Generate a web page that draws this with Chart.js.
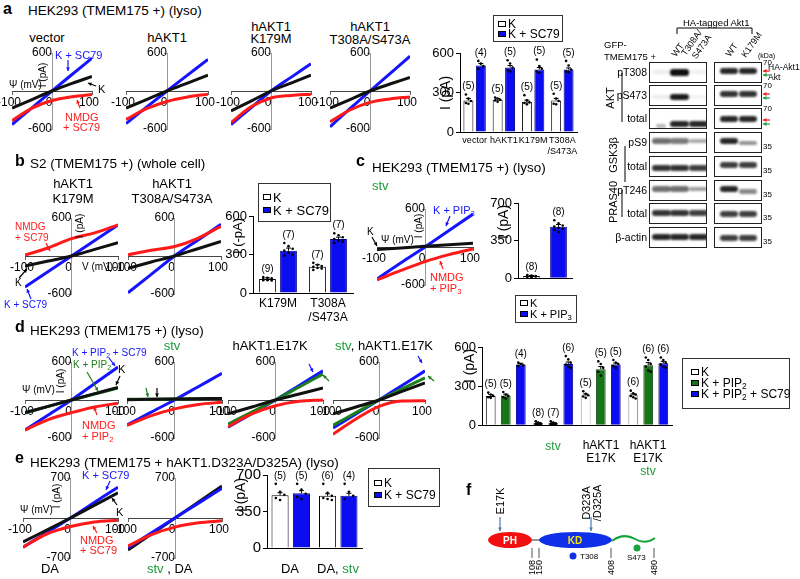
<!DOCTYPE html>
<html>
<head>
<meta charset="utf-8">
<script src="https://cdn.jsdelivr.net/npm/chart.js@4.4.1/dist/chart.umd.min.js"></script>
<style>
body { margin: 0; width: 800px; height: 579px; position: relative; background: #fff; overflow: hidden; font-family: "Liberation Sans", Arial, sans-serif; }
.t { position: absolute; white-space: nowrap; line-height: 1; color: #000; }
.lg { position: absolute; border: 1px solid #333; box-sizing: border-box; }
.sw { position: absolute; width: 8px; height: 6px; box-sizing: border-box; border: 1px solid #000; }
.blot { position: absolute; border: 1.5px solid #222; box-sizing: border-box; background: #fff; overflow: hidden; }
.band { position: absolute; border-radius: 3px; filter: blur(0.8px); }
sub { font-size: 70%; vertical-align: -2px; line-height: 0; }
.g { color: #1d9a3a; }
</style>
</head>
<body>
<script>
const blue = '#1414ff', red = '#ff1a1a', black = '#111', green = '#1d7f1d';
const barBlue = '#0c0cf0', barGreen = '#177517', stvGreen = '#1d9a3a';

// membrane voltage (mV) for every I-V trace
const V = [-100, -50, 0, 50, 100];

// a: HEK293 lyso, current (pA)
const aVecK = [-270, -135, 0, 120, 230], aVecSC = [-530, -265, 0, 260, 520], aVecNM = [-470, -270, -150, -90, -55];
const aAktK = [-270, -135, 0, 125, 250], aAktSC = [-515, -255, 0, 250, 500], aAktNM = [-450, -280, -165, -95, -50];
const aKmK = [-315, -160, 0, 125, 250], aKmSC = [-530, -265, 0, 215, 430], aKmNM = [-500, -250, -110, -70, -50];
const aTsK = [-270, -135, 0, 110, 215], aTsSC = [-565, -280, 0, 275, 550], aTsNM = [-485, -300, -180, -125, -95];
const aCats = ['vector', 'hAKT1', 'K179M', ['T308A', '/S473A']];
const aK = [240, 245, 230, 240], aSC = [505, 490, 475, 475];
const aKn = [5, 5, 5, 5], aSCn = [4, 5, 5, 5];
const aKsem = [15, 8, 12, 15], aSCsem = [15, 15, 15, 12];
const aKpts = [[285, 255, 235, 220, 215], [262, 255, 245, 240, 230], [280, 240, 225, 220, 210], [290, 255, 235, 215, 210]];
const aSCpts = [[540, 520, 500, 480], [545, 520, 490, 470, 460], [550, 500, 480, 460, 450], [540, 505, 475, 460, 455]];

// b: S2 whole cell
const bKmK = [-160, -80, 0, 105, 210], bKmSC = [-490, -245, 0, 245, 490], bKmNM = [15, 130, 275, 365, 490];
const bTsK = [-195, -95, 0, 115, 230], bTsSC = [-580, -290, 0, 250, 500], bTsNM = [20, 90, 150, 280, 470];
const bCats = ['K179M', ['T308A', '/S473A']];
const bK = [110, 205], bSC = [330, 420];
const bKn = [9, 7], bSCn = [7, 7];
const bKsem = [8, 15], bSCsem = [20, 15];
const bKpts = [[125, 118, 115, 110, 105, 105, 100, 100, 98], [235, 220, 210, 205, 195, 190, 180]];
const bSCpts = [[390, 365, 345, 330, 315, 300, 290], [465, 450, 435, 420, 410, 400, 390]];

// c: starved, PIP3
const cK = [-40, -15, 10, 35, 60], cPIP = [-505, -250, 0, 260, 520], cNM = [-520, -370, -230, -120, -30];
const cVals = [20, 480], cN = [8, 8], cSem = [5, 20];
const cPts = [[30, 25, 20, 18, 15, 15, 12, 10], [540, 510, 490, 480, 470, 460, 450, 430]];

// d: PIP2 / E17K
const d1K = [-200, -100, 0, 100, 200], d1G = [-205, -100, 0, 95, 190], d1B = [-475, -235, 0, 260, 520], d1R = [-475, -310, -200, -110, -50];
const d2K = [5, 10, 15, 20, 25], d2G = [10, 12, 15, 20, 25], d2B = [-395, -195, 0, 210, 420], d2R = [-400, -250, -140, -70, -35];
const d3K = [-220, -110, 0, 95, 190], d3G = [-380, -190, 0, 205, 410], d3B = [-430, -215, 0, 230, 460], d3R = [-420, -220, -90, -20, 0];
const d4K = [-220, -110, 0, 135, 270], d4G = [-400, -200, 0, 175, 350], d4B = [-440, -220, 0, 230, 460], d4R = [-540, -300, -100, -15, -10];
const dCats = ['', 'stv', 'hAKT1 E17K', 'hAKT1 E17K stv'];
const dK = [225, 15, 230, 230], dG = [228, 15, 430, 460], dB = [465, 470, 465, 475];
const dKn = [5, 8, 5, 6], dGn = [5, 7, 5, 6], dBn = [4, 6, 5, 6];
const dKsem = [10, 4, 10, 10], dGsem = [10, 4, 20, 20], dBsem = [10, 15, 12, 15];
const dKpts = [[250, 235, 225, 215, 210], [30, 20, 15, 10, 8, 5, 5, 3], [260, 240, 230, 220, 210], [265, 245, 235, 225, 215, 205]];
const dGpts = [[255, 235, 225, 215, 205], [30, 20, 15, 10, 8, 5, 3], [490, 470, 440, 410, 380], [520, 500, 470, 450, 420, 410]];
const dBpts = [[480, 470, 460, 455], [530, 505, 480, 465, 450, 440], [500, 480, 470, 455, 440], [520, 500, 480, 465, 450, 440]];

// e: D323A/D325A
const e1K = [-420, -210, 0, 220, 440], e1B = [-510, -255, 0, 270, 540], e1R = [-510, -280, -150, -70, -40];
const e2K = [-560, -280, 0, 280, 560], e2B = [-520, -260, 0, 260, 520], e2R = [-490, -290, -160, -85, -50];
const eCats = ['DA', 'DA, stv'];
const eK = [505, 500], eSC = [525, 500];
const eKn = [5, 6], eSCn = [5, 4];
const eKsem = [25, 20], eSCsem = [25, 25];
const eKpts = [[615, 540, 510, 480, 460], [615, 530, 500, 480, 470, 460]];
const eSCpts = [[615, 560, 520, 490, 470], [615, 540, 500, 470]];

Chart.defaults.font.family = '"Liberation Sans", Arial, sans-serif';
Chart.defaults.color = '#000';

function makeCanvas(x, y, w, h) {
    const c = document.createElement('canvas');
    c.width = w; c.height = h;
    c.style.cssText = 'position:absolute;left:' + x + 'px;top:' + y + 'px;width:' + w + 'px;height:' + h + 'px';
    document.body.appendChild(c);
    return c;
}

function ivChart(L, T, W, H, yMax, series) {
    const pad = 26;
    const cv = makeCanvas(L - pad, T - pad, W + 2 * pad, H + 2 * pad);
    new Chart(cv, {
        type: 'line',
        data: {
            datasets: series.map(s => ({
                data: V.map((v, i) => ({ x: v, y: s[0][i] })),
                borderColor: s[1], borderWidth: 3, pointRadius: 0,
                cubicInterpolationMode: 'monotone', fill: false
            }))
        },
        options: {
            responsive: false, devicePixelRatio: 1, animation: false,
            layout: { padding: pad },
            plugins: { legend: { display: false }, tooltip: { enabled: false } },
            scales: {
                x: {
                    type: 'linear', min: -100, max: 100, position: { y: 0 },
                    afterFit: s => { s.height = 0; },
                    afterBuildTicks: s => { s.ticks = V.filter(v => v % 100 === 0).map(v => ({ value: v })); },
                    border: { color: '#444' },
                    grid: { drawOnChartArea: false, tickLength: 3, color: '#666' },
                    ticks: { font: { size: 12 }, padding: 1, labelOffset: -3, maxRotation: 0, autoSkip: false }
                },
                y: {
                    type: 'linear', min: -yMax, max: yMax, position: { x: 0 },
                    afterFit: s => { s.width = 0; },
                    afterBuildTicks: s => { s.ticks = [-yMax, yMax].map(v => ({ value: v })); },
                    border: { color: '#999' },
                    grid: { drawOnChartArea: false, tickLength: 3, color: '#999' },
                    ticks: { font: { size: 12 }, padding: 1, autoSkip: false }
                }
            }
        }
    });
}

// error bars, single points and n above each bar
const barExtras = {
    id: 'barExtras',
    afterDatasetsDraw(chart) {
        const ctx = chart.ctx, ys = chart.scales.y;
        chart.data.datasets.forEach((ds, di) => {
            chart.getDatasetMeta(di).data.forEach((bar, i) => {
                const v = ds.data[i], w = bar.width;
                let top = v;
                ctx.save();
                ctx.strokeStyle = '#000';
                ctx.fillStyle = '#000';
                ctx.lineWidth = 1;
                if (ds.sem) {
                    const y0 = ys.getPixelForValue(v), y1 = ys.getPixelForValue(v + ds.sem[i]);
                    ctx.beginPath();
                    ctx.moveTo(bar.x, y0); ctx.lineTo(bar.x, y1);
                    ctx.moveTo(bar.x - 2.5, y1); ctx.lineTo(bar.x + 2.5, y1);
                    ctx.stroke();
                    top = Math.max(top, v + ds.sem[i]);
                }
                if (ds.pts) {
                    ds.pts[i].forEach((p, j) => {
                        const dx = ((j % 3) - 1) * w * 0.25;
                        ctx.beginPath();
                        ctx.arc(bar.x + dx, ys.getPixelForValue(p), 1.3, 0, Math.PI * 2);
                        ctx.fill();
                        top = Math.max(top, p);
                    });
                }
                if (ds.n) {
                    ctx.font = '10px "Liberation Sans", Arial, sans-serif';
                    ctx.textAlign = 'center';
                    ctx.textBaseline = 'middle';
                    ctx.fillText('(' + ds.n[i] + ')', bar.x, ys.getPixelForValue(top) - 8);
                }
                ctx.restore();
            });
        });
    }
};

function barChart(L, T, R, B, yMax, yTicks, labels, sets, o) {
    const padL = 32, padT = 12, padR = 6, xh = o.xh;
    const cv = makeCanvas(L - padL, T - padT, R - L + padL + padR, B - T + padT + xh);
    new Chart(cv, {
        type: 'bar',
        data: {
            labels: labels,
            datasets: sets.map(s => ({
                data: s.v, backgroundColor: s.bg, borderColor: s.bd, borderWidth: 1,
                pts: s.pts, sem: s.sem, n: s.n,
                categoryPercentage: o.cp, barPercentage: o.bp
            }))
        },
        options: {
            responsive: false, devicePixelRatio: 1, animation: false,
            layout: { padding: { left: 2, top: padT, right: padR, bottom: 0 } },
            plugins: { legend: { display: false }, tooltip: { enabled: false } },
            scales: {
                x: {
                    afterFit: s => { s.height = xh; },
                    grid: { drawOnChartArea: false, drawTicks: false },
                    border: { color: '#000' },
                    ticks: { display: !!o.showX, font: { size: o.xfs || 11 }, padding: 3, maxRotation: 0, autoSkip: false }
                },
                y: {
                    min: 0, max: yMax,
                    afterFit: s => { s.width = padL - 2; },
                    afterBuildTicks: s => { s.ticks = yTicks.map(v => ({ value: v })); },
                    grid: { drawOnChartArea: false, tickLength: 4, color: '#000' },
                    border: { color: '#000' },
                    ticks: { font: { size: o.yfs || 12 }, padding: 2 }
                }
            }
        },
        plugins: [barExtras]
    });
}

function txt(x, y, s, o) {
    o = o || {};
    const fs = o.fs || 12;
    const d = document.createElement('div');
    d.className = 't';
    d.innerHTML = s;
    d.style.fontSize = fs + 'px';
    d.style.left = x + 'px';
    d.style.top = (y - fs / 2) + 'px';
    if (o.c) d.style.color = o.c;
    if (o.b) d.style.fontWeight = 'bold';
    if (o.center) d.style.transform = 'translateX(-50%)';
    if (o.right) d.style.transform = 'translateX(-100%)';
    document.body.appendChild(d);
    return d;
}

function rot(x, y, s, fs, ang) {
    const d = document.createElement('div');
    d.className = 't';
    d.innerHTML = s;
    d.style.fontSize = fs + 'px';
    d.style.left = x + 'px';
    d.style.top = y + 'px';
    d.style.transform = 'translate(-50%,-50%) rotate(' + (ang || -90) + 'deg)';
    document.body.appendChild(d);
}

function legend(x, y, w, h, items, fs, sx) {
    const b = document.createElement('div');
    b.className = 'lg';
    b.style.cssText = 'left:' + x + 'px;top:' + y + 'px;width:' + w + 'px;height:' + h + 'px';
    document.body.appendChild(b);
    items.forEach(it => {
        const s = document.createElement('div');
        s.className = 'sw';
        s.style.left = sx + 'px';
        s.style.top = (it[3] - 3) + 'px';
        s.style.background = it[1];
        s.style.borderColor = it[2];
        document.body.appendChild(s);
        txt(sx + 10, it[3], it[0], { fs: fs });
    });
}

let svg = '';
function arrow(x1, y1, x2, y2, col) {
    const a = Math.atan2(y2 - y1, x2 - x1), s = 4;
    const p1 = [x2 - s * Math.cos(a - 0.5), y2 - s * Math.sin(a - 0.5)];
    const p2 = [x2 - s * Math.cos(a + 0.5), y2 - s * Math.sin(a + 0.5)];
    svg += '<line x1="' + x1 + '" y1="' + y1 + '" x2="' + x2 + '" y2="' + y2 + '" stroke="' + col + '" stroke-width="1.2"/>';
    svg += '<polygon points="' + x2 + ',' + y2 + ' ' + p1.join(',') + ' ' + p2.join(',') + '" fill="' + col + '"/>';
}
function line(x1, y1, x2, y2, col, w) {
    svg += '<line x1="' + x1 + '" y1="' + y1 + '" x2="' + x2 + '" y2="' + y2 + '" stroke="' + col + '" stroke-width="' + (w || 1) + '"/>';
}

// ---------- panel a ----------
txt(3, 9, 'a', { fs: 16, b: 1 });
txt(28, 11, 'HEK293 (TMEM175 +) (lyso)', { fs: 13.5 });
txt(47, 37, 'vector', { fs: 13, center: 1 });
txt(167, 37, 'hAKT1', { fs: 13, center: 1 });
txt(271, 26, 'hAKT1', { fs: 13, center: 1 });
txt(271, 38, 'K179M', { fs: 13, center: 1 });
txt(370, 26, 'hAKT1', { fs: 13, center: 1 });
txt(370, 39, 'T308A/S473A', { fs: 13, center: 1 });
ivChart(12, 53, 80, 76, 600, [[aVecNM, red], [aVecK, black], [aVecSC, blue]]);
ivChart(126, 53, 82, 76, 600, [[aAktNM, red], [aAktK, black], [aAktSC, blue]]);
ivChart(231, 53, 80, 76, 600, [[aKmNM, red], [aKmK, black], [aKmSC, blue]]);
ivChart(330, 53, 80, 76, 600, [[aTsNM, red], [aTsK, black], [aTsSC, blue]]);
txt(55, 55, 'K + SC79', { fs: 11, c: blue });
arrow(68, 60, 68, 71, blue);
txt(98, 89, 'K', { fs: 11 });
arrow(96, 86, 88, 83, '#000');
txt(9, 85, 'Ψ (mV)', { fs: 10 });
rot(43, 75, 'I (pA)', 10);
txt(65, 117, 'NMDG', { fs: 11, c: red });
txt(63, 127, '+ SC79', { fs: 11, c: red });
arrow(80, 108, 77, 100, red);

barChart(460, 53, 577, 132, 600, [0, 300, 600], aCats, [
    { v: aK, bg: '#fff', bd: '#000', pts: aKpts, sem: aKsem, n: aKn },
    { v: aSC, bg: barBlue, bd: '#00008a', pts: aSCpts, sem: aSCsem, n: aSCn }
], { xh: 28, cp: 0.85, bp: 0.8, showX: 1, xfs: 9, yfs: 13 });
rot(445, 93, 'I (pA)', 14);
legend(493, 15, 70, 27, [['K', '#fff', '#000', 24], ['K + SC79', barBlue, '#000', 34]], 12, 498);

// ---------- western blot ----------
txt(683, 23, 'HA-tagged Akt1', { fs: 9.5 });
line(677, 28, 752, 28, '#000'); line(677, 28, 677, 34, '#000'); line(752, 28, 752, 34, '#000');
txt(604, 45, 'GFP-', { fs: 9.5 });
txt(604, 57, 'TMEM175 +', { fs: 9.5 });
rot(678, 50, 'WT', 9, -55);
rot(692, 43, 'T308A/', 9, -55);
rot(702, 47, 'S473A', 9, -55);
rot(732, 50, 'WT', 9, -55);
rot(752, 45, 'K179M', 9, -55);
txt(758, 55, '(kDa)', { fs: 7 });

const blotRows = [
    // label, box top, band y left, band y right, left lanes, right lanes, marker
    ['pT308', 62, 71, 70, [0.08, 1, 0.06], [0.9, 0.9], '70'],
    ['pS473', 85, 96, 93, [0.08, 0.95, 0.05], [0.85, 0.85], '70'],
    ['total', 108, 123, 118, [0.3, 0.9, 0.9], [0.9, 0.9], '70'],
    ['pS9', 132, 140, 140, [0.6, 0.55, 0.35], [0.9, 0.45], '35'],
    ['total', 156, 167, 164, [0.85, 0.85, 0.8], [0.8, 0.8], '35'],
    ['pT246', 180, 188, 188, [0.6, 0.6, 0.4], [0.9, 0.5], '35'],
    ['total', 203, 212, 213, [0.85, 0.85, 0.8], [0.8, 0.8], '35'],
    ['β-actin', 227, 236, 237, [0.9, 0.9, 0.9], [0.8, 0.8], '35']
];
function blotBox(x, y, w, h) {
    const b = document.createElement('div');
    b.className = 'blot';
    b.style.cssText = 'left:' + x + 'px;top:' + y + 'px;width:' + w + 'px;height:' + h + 'px';
    document.body.appendChild(b);
    return b;
}
function band(box, cx, cy, w, k, bx, by) {
    const d = document.createElement('div');
    d.className = 'band';
    const h = 3 + 4 * k;
    d.style.cssText = 'left:' + (cx - w / 2 - bx) + 'px;top:' + (cy - h / 2 - by) + 'px;width:' + w + 'px;height:' + h + 'px;background:rgba(15,15,15,' + k + ')';
    box.appendChild(d);
}
blotRows.forEach((r, ri) => {
    const bl = blotBox(649, r[1], 58, 21), br = blotBox(714, r[1], 48, 21);
    r[4].forEach((k, i) => {
        const lowLane = ri === 2 && i === 0;
        band(bl, 660 + i * 18.5, r[2] + (lowLane ? 2 : 0), lowLane ? 10 : 19, k, 649, r[1]);
    });
    r[5].forEach((k, i) => {
        band(br, 728 + i * 19, r[3] + (ri === 3 || ri === 5 ? i * 2 : 0), 18, k, 714, r[1]);
    });
    txt(647, r[1] + 10, r[0], { fs: 10.5, right: 1 });
    txt(763, r[6] === '70' ? r[1] + 1 : r[1] + 15, r[6], { fs: 8 });
});
txt(768, 67, 'HA-Akt1', { fs: 8.5 });
txt(768, 77, 'Akt', { fs: 8.5 });
[71, 94, 120].forEach(y => { arrow(770, y, 763, y, red); arrow(770, y + 4, 763, y + 4, '#1aa33a'); });
rot(610, 98, 'AKT', 11);
line(622, 73, 622, 122, '#000');
rot(613, 155, 'GSK3β', 11);
line(625, 146, 625, 182, '#000');
rot(613, 202, 'PRAS40', 11);
line(622, 190, 622, 217, '#000');

// ---------- panel b ----------
txt(15, 161, 'b', { fs: 16, b: 1 });
txt(30, 164, 'S2 (TMEM175 +) (whole cell)', { fs: 13.5 });
txt(73, 183, 'hAKT1', { fs: 13, center: 1 });
txt(73, 198, 'K179M', { fs: 13, center: 1 });
txt(172, 183, 'hAKT1', { fs: 13, center: 1 });
txt(172, 198, 'T308A/S473A', { fs: 13, center: 1 });
ivChart(25, 218, 93, 76, 600, [[bKmNM, red], [bKmK, black], [bKmSC, blue]]);
ivChart(128, 218, 93, 76, 600, [[bTsNM, red], [bTsK, black], [bTsSC, blue]]);
txt(15, 227, 'NMDG', { fs: 10, c: red });
txt(15, 238, '+ SC79', { fs: 10, c: red });
arrow(46, 243, 50, 251, red);
rot(80, 226, 'I (pA)', 10);
txt(82, 267, 'V (mV)', { fs: 10 });
txt(15, 283, 'K', { fs: 10 });
arrow(19, 278, 27, 269, '#000');
txt(4, 305, 'K + SC79', { fs: 10, c: blue });
arrow(31, 299, 27, 289, blue);
barChart(253, 216, 353, 293, 600, [0, 300, 600], bCats, [
    { v: bK, bg: '#fff', bd: '#000', pts: bKpts, sem: bKsem, n: bKn },
    { v: bSC, bg: barBlue, bd: '#00008a', pts: bSCpts, sem: bSCsem, n: bSCn }
], { xh: 30, cp: 0.84, bp: 0.8, showX: 1, xfs: 12, yfs: 13 });
rot(237, 236, 'I (-pA)', 13);
legend(258, 183, 73, 39, [['K', '#fff', '#000', 197], ['K + SC79', barBlue, '#000', 210]], 13, 263);

// ---------- panel c ----------
txt(356, 161, 'c', { fs: 16, b: 1 });
txt(372, 168, 'HEK293 (TMEM175 +) (lyso)', { fs: 13.5 });
txt(372, 185, 'stv', { fs: 13, c: stvGreen });
ivChart(377, 209, 96, 76, 600, [[cNM, red], [cK, black], [cPIP, blue]]);
rot(419, 226, 'I (pA)', 10);
txt(433, 210, 'K + PIP<sub>3</sub>', { fs: 11, c: blue });
arrow(450, 216, 446, 226, blue);
txt(367, 232, 'K', { fs: 10 });
arrow(372, 237, 377, 246, '#000');
txt(381, 240, 'Ψ (mV)', { fs: 10 });
txt(430, 277, 'NMDG', { fs: 11, c: red });
txt(430, 288, '+ PIP<sub>3</sub>', { fs: 11, c: red });
arrow(443, 269, 440, 261, red);
barChart(518, 203, 572, 284, 700, [0, 350, 700], ['K', 'K + PIP3'], [
    { v: cVals, bg: ['#fff', barBlue], bd: ['#000', '#00008a'], pts: cPts, sem: cSem, n: cN }
], { xh: 4, cp: 1, bp: 0.62, yfs: 13 });
rot(503, 222, 'I (pA)', 14);
legend(515, 295, 62, 28, [['K', '#fff', '#000', 303], ['K + PIP<sub>3</sub>', barBlue, '#000', 314]], 11, 520);

// ---------- panel d ----------
txt(15, 327, 'd', { fs: 16, b: 1 });
txt(30, 331, 'HEK293 (TMEM175 +) (lyso)', { fs: 13.5 });
txt(172, 345, 'stv', { fs: 13, center: 1, c: stvGreen });
txt(270, 345, 'hAKT1.E17K', { fs: 13, center: 1 });
txt(335, 345, '<span class="g">stv</span>, hAKT1.E17K', { fs: 13 });
ivChart(25, 362, 93, 76, 600, [[d1R, red], [d1K, black], [d1G, green], [d1B, blue]]);
ivChart(127, 362, 95, 76, 600, [[d2R, red], [d2K, black], [d2G, green], [d2B, blue]]);
ivChart(228, 362, 95, 76, 600, [[d3R, red], [d3K, black], [d3G, green], [d3B, blue]]);
ivChart(333, 362, 92, 76, 600, [[d4R, red], [d4K, black], [d4G, green], [d4B, blue]]);
txt(72, 353, 'K + PIP<sub>2</sub> + SC79', { fs: 10, c: blue });
txt(73, 365, 'K + PIP<sub>2</sub>', { fs: 10, c: green });
txt(118, 369, 'K', { fs: 11 });
arrow(109, 358, 115, 366, blue);
arrow(120, 376, 116, 385, '#000');
arrow(87, 372, 98, 391, green);
txt(22, 390, 'Ψ (mV)', { fs: 10 });
rot(61, 381, 'I (pA)', 10);
txt(82, 425, 'NMDG', { fs: 11, c: red });
txt(82, 436, '+ PIP<sub>2</sub>', { fs: 11, c: red });
arrow(97, 415, 94, 407, red);
arrow(146, 388, 148, 397, green);
arrow(157, 388, 157, 397, '#000');
arrow(309, 364, 313, 372, blue);
arrow(329, 381, 323, 375, green);
arrow(418, 356, 422, 363, blue);
arrow(434, 381, 428, 376, green);
barChart(482, 347, 672, 431, 600, [0, 300, 600], dCats, [
    { v: dK, bg: '#fff', bd: ['#000', '#000', '#aaa', '#888'], pts: dKpts, sem: dKsem, n: dKn },
    { v: dG, bg: barGreen, bd: '#0a4a0a', pts: dGpts, sem: dGsem, n: dGn },
    { v: dB, bg: barBlue, bd: '#00008a', pts: dBpts, sem: dBsem, n: dBn }
], { xh: 4, cp: 0.95, bp: 0.65, yfs: 13 });
rot(469, 366, 'I (pA)', 14);
txt(553, 446, 'stv', { fs: 12, center: 1, c: stvGreen });
txt(601, 445, 'hAKT1', { fs: 12, center: 1 });
txt(601, 458, 'E17K', { fs: 12, center: 1 });
txt(648, 445, 'hAKT1', { fs: 12, center: 1 });
txt(648, 458, 'E17K', { fs: 12, center: 1 });
txt(648, 471, 'stv', { fs: 12, center: 1, c: stvGreen });
legend(682, 358, 108, 51, [['K', '#fff', '#000', 372], ['K + PIP<sub>2</sub>', barGreen, '#000', 383], ['K + PIP<sub>2</sub> + SC79', barBlue, '#000', 394]], 12, 691);

// ---------- panel e ----------
txt(15, 458, 'e', { fs: 16, b: 1 });
txt(30, 463, 'HEK293 (TMEM175 + hAKT1.D323A/D325A) (lyso)', { fs: 13.5 });
ivChart(23, 478, 95, 80, 700, [[e1R, red], [e1K, black], [e1B, blue]]);
ivChart(128, 478, 94, 80, 700, [[e2R, red], [e2B, blue], [e2K, black]]);
txt(82, 475, 'K + SC79', { fs: 11, c: blue });
arrow(110, 481, 106, 490, blue);
txt(116, 512, 'K', { fs: 11 });
arrow(117, 505, 112, 498, '#000');
txt(20, 510, 'Ψ (mV)', { fs: 10 });
rot(57, 496, 'I (pA)', 10);
txt(80, 540, 'NMDG', { fs: 11, c: red });
txt(80, 550, '+ SC79', { fs: 11, c: red });
arrow(97, 533, 93, 526, red);
txt(50, 568, 'DA', { fs: 13, center: 1 });
txt(147, 568, '<span class="g">stv</span> , DA', { fs: 13 });
barChart(267, 475, 362, 555, 700, [0, 350, 700], eCats, [
    { v: eK, bg: '#fff', bd: '#000', pts: eKpts, sem: eKsem, n: eKn },
    { v: eSC, bg: barBlue, bd: '#00008a', pts: eSCpts, sem: eSCsem, n: eSCn }
], { xh: 4, cp: 0.9, bp: 0.8, yfs: 15 });
rot(240, 495, 'I (pA)', 14);
txt(290, 568, 'DA', { fs: 13, center: 1 });
txt(338, 568, 'DA, <span class="g">stv</span>', { fs: 13, center: 1 });
legend(368, 468, 72, 39, [['K', '#fff', '#000', 483], ['K + SC79', barBlue, '#000', 495]], 12, 374);

// ---------- panel f ----------
txt(466, 490, 'f', { fs: 16, b: 1 });
rot(500, 501, 'E17K', 11);
rot(586, 503, 'D323A', 11);
rot(597, 503, '/D325A', 11);
arrow(500, 517, 500, 531, '#4a7ab8');
arrow(591, 517, 591, 531, '#4a7ab8');
line(532, 540, 540, 540, '#333');
svg += '<ellipse cx="510" cy="540" rx="22" ry="8" fill="#f01010"/>';
svg += '<ellipse cx="575.5" cy="540" rx="36.5" ry="8" fill="#1030e8"/>';
svg += '<text x="510" y="544" fill="#fff" font-size="10" font-weight="bold" text-anchor="middle" font-family="Liberation Sans, Arial">PH</text>';
svg += '<text x="575" y="544" fill="#f5e600" font-size="10" font-weight="bold" text-anchor="middle" font-family="Liberation Sans, Arial">KD</text>';
svg += '<path d="M612,541 C620,535 628,535 635,539 S648,543 655,538" stroke="#1aa33a" stroke-width="2" fill="none"/>';
[[532, '108'], [539, '150'], [611, '408'], [654, '480']].forEach(p => {
    line(p[0], 548, p[0], 558, '#555');
    svg += '<text transform="translate(' + (p[0] + 3) + ',575) rotate(-90)" font-size="9" font-family="Liberation Sans, Arial">' + p[1] + '</text>';
});
svg += '<circle cx="573" cy="556" r="3.5" fill="#1030e8"/>';
svg += '<text x="580" y="559" font-size="8" font-family="Liberation Sans, Arial">T308</text>';
svg += '<circle cx="637" cy="548" r="3.5" fill="#1aa33a"/>';
svg += '<text x="627" y="560" font-size="8" font-family="Liberation Sans, Arial">S473</text>';

const ov = document.createElement('div');
ov.style.cssText = 'position:absolute;left:0;top:0;width:800px;height:579px;pointer-events:none';
ov.innerHTML = '<svg width="800" height="579" xmlns="http://www.w3.org/2000/svg">' + svg + '</svg>';
document.body.appendChild(ov);
</script>
</body>
</html>
